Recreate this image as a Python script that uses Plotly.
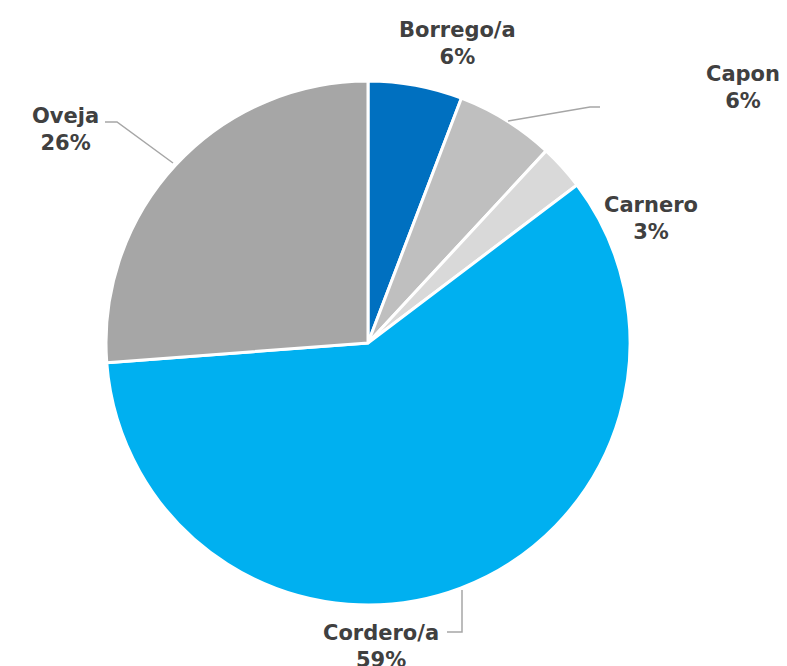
import plotly.graph_objects as go

W, H = 787, 666

# Data
categories = ["Borrego/a", "Capon", "Carnero", "Cordero/a", "Oveja"]
values = [5.8, 6.1, 2.8, 59.1, 26.2]

# Styles
colors = ["#0070C0", "#BFBFBF", "#D9D9D9", "#00B0F0", "#A6A6A6"]
text_color = "#404040"
line_color = "#A6A6A6"

# Label layout (pixel centres of each two-line label)
label_pos = [(457, 44), (743, 87), (651, 218), (381, 646), (65, 129)]

# Leader lines (pixel polylines)
leaders = [
    None,
    [(508, 121), (590, 107), (600, 107)],
    None,
    [(462, 590), (462, 632), (447, 632)],
    [(173, 163), (117, 122), (105, 122)],
]

# Pie geometry (pixels)
cx, cy, r = 368, 343, 262

def px(x):
    return x / W

def py(y):
    return 1 - y / H

total = sum(values)

fig = go.Figure(go.Pie(
    labels=categories,
    values=values,
    sort=False,
    direction="clockwise",
    rotation=0,
    marker=dict(colors=colors, line=dict(color="white", width=3)),
    textinfo="none",
    hoverinfo="label+percent",
    showlegend=False,
    domain=dict(x=[px(cx - r), px(cx + r)], y=[py(cy + r), py(cy - r)]),
))

annotations = []
for cat, v, (lx, ly) in zip(categories, values, label_pos):
    pct = round(v / total * 100)
    annotations.append(dict(
        x=px(lx), y=py(ly), xref="paper", yref="paper",
        text=f"<b>{cat}<br>{pct}%</b>", showarrow=False,
        xanchor="center", yanchor="middle", align="center",
        font=dict(family="DejaVu Sans", size=21, color=text_color),
    ))

shapes = []
for pts in leaders:
    if not pts:
        continue
    path = "M " + " L ".join(f"{px(x)},{py(y)}" for x, y in pts)
    shapes.append(dict(type="path", path=path, xref="paper", yref="paper",
                       line=dict(color=line_color, width=1.5)))

fig.update_layout(
    width=W, height=H,
    margin=dict(l=0, r=0, t=0, b=0),
    paper_bgcolor="white", plot_bgcolor="white",
    annotations=annotations, shapes=shapes,
)

fig.write_html(
    "out.html",
    config={"displayModeBar": False},
    post_script="document.body.style.margin='0';document.body.style.overflow='hidden';",
)
